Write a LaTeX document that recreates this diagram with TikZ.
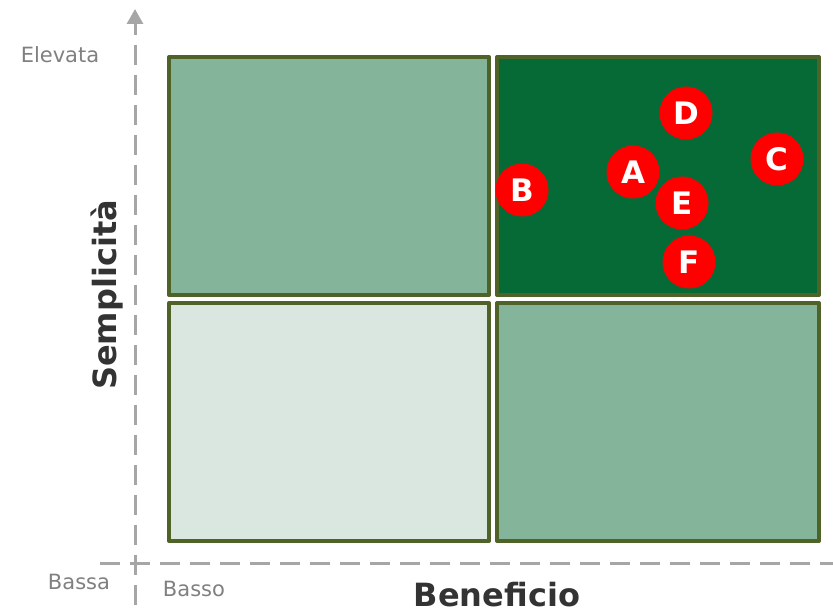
\documentclass[tikz,border=0pt]{standalone}
\usepackage{fontspec}
\setmainfont{DejaVu Sans}
\usetikzlibrary{arrows.meta}
\definecolor{bordo}{HTML}{4F6228}
\definecolor{verdescuro}{HTML}{066A37}
\definecolor{verdemedio}{HTML}{84B59B}
\definecolor{verdechiaro}{HTML}{D9E7E0}
\definecolor{asse}{HTML}{A6A6A6}
\definecolor{testogrigio}{HTML}{808080}
\definecolor{testoscuro}{HTML}{333333}
\begin{document}
\begin{tikzpicture}[x=1pt, y=1pt, line join=round,
	quadrante/.style={draw=bordo, line width=4pt, minimum height=238pt, inner sep=0pt},
	punto/.style={circle, fill=red, text=white, minimum size=53pt, inner sep=0pt, font=\fontsize{31}{33}\selectfont\bfseries},
	etichetta/.style={text=testogrigio, inner sep=0pt, font=\fontsize{21}{25}\selectfont},
	titolo/.style={text=testoscuro, inner sep=0pt, font=\fontsize{32}{36}\selectfont\bfseries},
	asseline/.style={asse, line width=3pt, dash pattern=on 20pt off 10pt}]
	\useasboundingbox (0,0) rectangle (833,614);
	\node[quadrante, fill=verdemedio, minimum width=320pt] (altobasso) at (329,438) {};
	\node[quadrante, fill=verdescuro, minimum width=322pt] (altoalto) at (658,438) {};
	\node[quadrante, fill=verdechiaro, minimum width=320pt] (bassobasso) at (329,192) {};
	\node[quadrante, fill=verdemedio, minimum width=322pt] (bassoalto) at (658,192) {};
	\coordinate (yinizio) at (135,9);
	\coordinate (yfine) at (135,605);
	\coordinate (xinizio) at (100,51);
	\coordinate (xfine) at (833,51);
	\draw[asseline] (xinizio) -- (xfine);
	\draw[asseline] (yinizio) -- (135,590);
	\draw[asse, line width=3pt, -{Triangle[length=15pt, width=16pt]}] (135,588) -- (yfine);
	\node[etichetta] (elevata) at (60,559) {Elevata};
	\node[etichetta] (bassa) at (79,32) {Bassa};
	\node[etichetta] (basso) at (194,25) {Basso};
	\node[titolo] (beneficio) at (497,19) {Beneficio};
	\node[titolo, rotate=90] (semplicita) at (107,319) {Semplicità};
	\node[punto] (A) at (633,442) {A};
	\node[punto] (B) at (522,424) {B};
	\node[punto] (C) at (777,455) {C};
	\node[punto] (D) at (686,501) {D};
	\node[punto] (E) at (682,411) {E};
	\node[punto] (F) at (689,352) {F};
\end{tikzpicture}
\end{document}
